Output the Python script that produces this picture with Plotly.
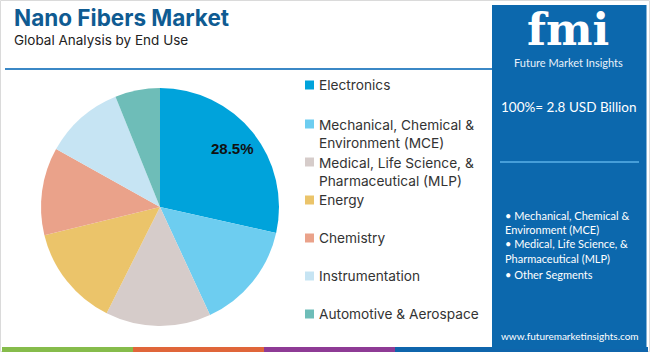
import math
import plotly.graph_objects as go

W, H = 650, 352

categories = ["Electronics", "Mechanical, Chemical & Environment (MCE)",
              "Medical, Life Science, & Pharmaceutical (MLP)", "Energy",
              "Chemistry", "Instrumentation", "Automotive & Aerospace"]
legend_labels = ["Electronics", "Mechanical, Chemical &<br>Environment (MCE)",
                 "Medical, Life Science, &<br>Pharmaceutical (MLP)", "Energy",
                 "Chemistry", "Instrumentation", "Automotive & Aerospace"]
shares = [28.5, 14.6, 14.3, 13.8, 11.9, 10.8, 6.1]
colors = ["#00A3DB", "#6DCDF0", "#D6CCCA", "#EBC46A", "#EAA28A", "#C6E4F3", "#6EBDB8"]
shown_label = ["28.5%", "", "", "", "", "", ""]

panel_lines = ["• Mechanical, Chemical &", "Environment (MCE)",
               "• Medical, Life Science, &", "Pharmaceutical (MLP)",
               "• Other Segments"]
market_text = "100%= 2.8 USD Billion"

def px(x):
    return x / W

def py(y):
    return 1 - y / H

# pie geometry (pixels)
cx, cy, r = 160, 207, 119

fig = go.Figure()
fig.add_trace(go.Pie(
    labels=categories, values=shares, sort=False, direction="clockwise",
    rotation=0, marker=dict(colors=colors, line=dict(width=0)),
    textinfo="none", hoverinfo="label+percent", showlegend=False,
    domain=dict(x=[px(cx - r), px(cx + r)], y=[py(cy + r), py(cy - r)]),
))

shapes = []
annotations = []

# outer border
shapes.append(dict(type="rect", xref="paper", yref="paper", x0=px(0.5), x1=px(649.5),
                   y0=py(351.5), y1=py(0.5), line=dict(color="#DADADA", width=1)))
# title underline
shapes.append(dict(type="line", xref="paper", yref="paper", x0=px(5), x1=px(492),
                   y0=py(69), y1=py(69), line=dict(color="#3B88C6", width=2)))
# bottom strip
for x0, x1, c in [(2, 133, "#86BC4B"), (133, 264, "#E0663A"), (264, 395, "#8E3B95"), (395, 648, "#0F65AC")]:
    shapes.append(dict(type="rect", xref="paper", yref="paper", x0=px(x0), x1=px(x1),
                       y0=py(352), y1=py(347), line=dict(width=0), fillcolor=c))
# right panel
shapes.append(dict(type="rect", xref="paper", yref="paper", x0=px(492), x1=px(646.5),
                   y0=py(349), y1=py(5), line=dict(width=0), fillcolor="#0C68AD"))
shapes.append(dict(type="line", xref="paper", yref="paper", x0=px(500), x1=px(639),
                   y0=py(162), y1=py(162), line=dict(color="#5AB0E8", width=1.5)))

# title
annotations.append(dict(text="<b>Nano Fibers Market</b>", x=px(12), y=py(17), xref="paper", yref="paper",
                        xanchor="left", yanchor="middle", showarrow=False,
                        font=dict(family="Inter", size=22.5, color="#0F5B92")))
annotations.append(dict(text="Global Analysis by End Use", x=px(12), y=py(40), xref="paper", yref="paper",
                        xanchor="left", yanchor="middle", showarrow=False,
                        font=dict(family="Inter", size=13.5, color="#222222")))

# slice label, placed at the middle angle of the first slice
total = sum(shares)
mid = (shares[0] / 2) / total * 2 * math.pi
lr = 0.78 * r
annotations.append(dict(text="<b>" + shown_label[0] + "</b>", x=px(cx + lr * math.sin(mid)),
                        y=py(cy - lr * math.cos(mid)), xref="paper", yref="paper",
                        showarrow=False, font=dict(family="Liberation Sans", size=15, color="#111111")))

# legend
legend_y = [85, 133.5, 171.5, 200, 238, 276, 314]
legend_sq_y = [85, 124, 162, 200, 238, 276, 314]
for lab, c, yy, sy in zip(legend_labels, colors, legend_y, legend_sq_y):
    shapes.append(dict(type="rect", xref="paper", yref="paper", x0=px(305), x1=px(314),
                       y0=py(sy + 4.5), y1=py(sy - 4.5), line=dict(width=0), fillcolor=c))
    annotations.append(dict(text=lab, x=px(316.5), y=py(yy), xref="paper", yref="paper",
                            xanchor="left", yanchor="middle", align="left", showarrow=False,
                            font=dict(family="Inter", size=13.7, color="#333333")))

# logo
annotations.append(dict(text="<b>fmi</b>", x=px(568), y=py(30), xref="paper", yref="paper",
                        xanchor="center", yanchor="middle", showarrow=False,
                        font=dict(family="DejaVu Serif", size=44, color="#FFFFFF")))
annotations.append(dict(text="Future Market Insights", x=px(568), y=py(62), xref="paper", yref="paper",
                        xanchor="center", yanchor="middle", showarrow=False,
                        font=dict(family="Lato", size=11, color="#E8F1FA")))
annotations.append(dict(text=market_text, x=px(569), y=py(107), xref="paper", yref="paper",
                        xanchor="center", yanchor="middle", showarrow=False,
                        font=dict(family="Lato", size=13.5, color="#FFFFFF")))
for txt, yy in zip(panel_lines, [215, 229.5, 243.5, 258, 274]):
    annotations.append(dict(text=txt, x=px(503), y=py(yy), xref="paper", yref="paper",
                            xanchor="left", yanchor="middle", align="left", showarrow=False,
                            font=dict(family="Lato", size=11, color="#FFFFFF")))
annotations.append(dict(text="www.futuremarketinsights.com", x=px(570), y=py(336), xref="paper", yref="paper",
                        xanchor="center", yanchor="middle", showarrow=False,
                        font=dict(family="Lato", size=10, color="#FFFFFF")))

fig.update_layout(width=W, height=H, margin=dict(l=0, r=0, t=0, b=0),
                  paper_bgcolor="#FFFFFF", plot_bgcolor="#FFFFFF",
                  shapes=shapes, annotations=annotations, showlegend=False)
fig.write_html("out.html", config={"displayModeBar": False})
